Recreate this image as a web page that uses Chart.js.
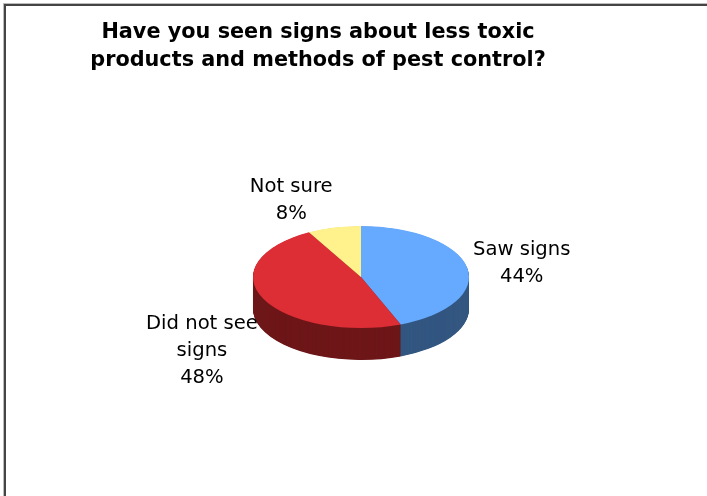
<!DOCTYPE html>
<html>
<head>
<meta charset="utf-8">
<script src="https://cdn.jsdelivr.net/npm/chart.js@4.4.1/dist/chart.umd.min.js"></script>
<style>
  html, body { margin: 0; padding: 0; background: #fff; }
  #wrap { position: relative; width: 707px; height: 496px; overflow: hidden; }
  #frame { position: absolute; left: 4px; top: 4px; right: -30px; bottom: -30px;
           border-top: 2px solid #444; border-left: 2px solid #444; box-shadow: -1px -1px 0 #bbb; }
  canvas { position: absolute; left: 0; top: 0; }
</style>
</head>
<body>
<div id="wrap">
  <div id="frame"></div>
  <canvas id="pieChart" width="707" height="496"></canvas>
</div>
<script>
const titleLines = ['Have you seen signs about less toxic', 'products and methods of pest control?'];
const categories = ['Saw signs', ['Did not see', 'signs'], 'Not sure'];
const values = [44, 48, 8];
const topColors = ['#66AAFF', '#DD2D35', '#FFF28C'];
const sideColors = ['#335780', '#6E1719', '#8C8440'];

// look of the fake 3d pie
const tilt = 51 / 108;
const depth = 32;
const labelGap = 6;
const lineHeight = 27;

const pie3d = {
    id: 'pie3d',
    beforeDatasetsDraw(chart) {
        const ctx = chart.ctx;
        const arcs = chart.getDatasetMeta(0).data;
        const cx = arcs[0].x, cy = arcs[0].y;
        ctx.save();
        ctx.translate(cx, cy);
        ctx.scale(1, tilt);
        ctx.translate(-cx, -cy);
        // side wall: stack darker copies under the top face
        for (let d = depth; d > 0; d -= 0.5) {
            arcs.forEach((arc, i) => {
                const y = arc.y + d / tilt;
                ctx.beginPath();
                ctx.moveTo(arc.x, y);
                ctx.arc(arc.x, y, arc.outerRadius, arc.startAngle, arc.endAngle);
                ctx.closePath();
                ctx.fillStyle = sideColors[i];
                ctx.fill();
            });
        }
    },
    afterDatasetsDraw(chart) {
        chart.ctx.restore();
    }
};

const pieLabels = {
    id: 'pieLabels',
    afterDraw(chart) {
        const ctx = chart.ctx;
        const arcs = chart.getDatasetMeta(0).data;
        const total = values.reduce((a, b) => a + b, 0);
        ctx.save();
        ctx.fillStyle = '#000';
        ctx.textAlign = 'center';
        ctx.textBaseline = 'middle';

        // title
        ctx.font = 'bold 20.8px "DejaVu Sans"';
        titleLines.forEach((t, j) => ctx.fillText(t, 318, 33 + j * 28));

        // slice labels
        ctx.font = '19.6px "DejaVu Sans"';
        arcs.forEach((arc, i) => {
            const lines = [].concat(chart.data.labels[i], Math.round(values[i] / total * 100) + '%');
            const mid = (arc.startAngle + arc.endAngle) / 2;
            const dx = Math.cos(mid), dy = Math.sin(mid);
            const r = arc.outerRadius + labelGap;
            const px = arc.x + r * dx;
            const py = arc.y + r * tilt * dy + (dy > 0 ? depth : 0) + 2;
            const w = Math.max(...lines.map(l => ctx.measureText(l).width));
            const h = lines.length * lineHeight;
            const bx = dx >= 0 ? px + w / 2 : px - w / 2;
            const by = py + h / 2 * dy;
            lines.forEach((l, j) => ctx.fillText(l, bx, by - h / 2 + lineHeight * (j + 0.5)));
        });
        ctx.restore();
    }
};

new Chart(document.getElementById('pieChart').getContext('2d'), {
    type: 'pie',
    data: {
        labels: categories,
        datasets: [{
            data: values,
            backgroundColor: topColors,
            borderWidth: 0,
            clip: false
        }]
    },
    options: {
        responsive: false,
        animation: false,
        layout: { padding: { left: 200, right: 185, top: 169, bottom: 111 } },
        plugins: {
            legend: { display: false },
            title: { display: false },
            tooltip: { enabled: false }
        }
    },
    plugins: [pie3d, pieLabels]
});
</script>
</body>
</html>
